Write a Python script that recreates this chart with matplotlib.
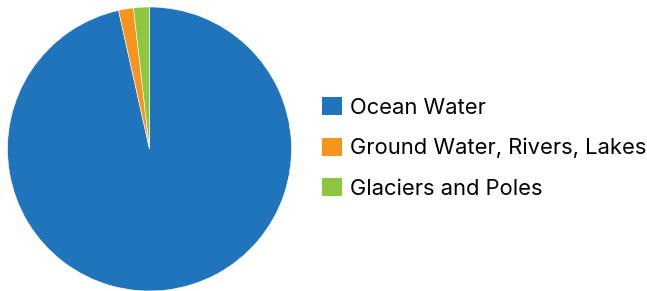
import matplotlib.pyplot as plt
from matplotlib.patches import Patch

labels = ["Ocean Water", "Ground Water, Rivers, Lakes", "Glaciers and Poles"]
values = [96.5, 1.7, 1.8]
colors = ["#1f74bb", "#f7941d", "#8dc63f"]

plt.rcParams['font.family'] = ['Inter', 'DejaVu Sans']
fig = plt.figure(figsize=(6.47, 2.91), dpi=100)
ax = fig.add_axes([(149.5 - 142) / 647, (291 - 149 - 142) / 291, 284 / 647, 284 / 291])
ax.pie(values, colors=colors, startangle=90, counterclock=False,
       wedgeprops=dict(edgecolor="white", linewidth=0.4))
ax.set_xlim(-1, 1)
ax.set_ylim(-1, 1)
ax.set_aspect('auto')
ax.axis('off')

handles = [Patch(facecolor=c, edgecolor='none') for c in colors]
fig.legend(handles, labels, loc='center left', bbox_to_anchor=(322 / 647, 1 - 148 / 291),
           frameon=False, fontsize=15.8, handlelength=0.9, handleheight=0.9,
           handletextpad=0.36, labelspacing=0.9, borderpad=0, borderaxespad=0)
fig.savefig("out.png", dpi=100)
